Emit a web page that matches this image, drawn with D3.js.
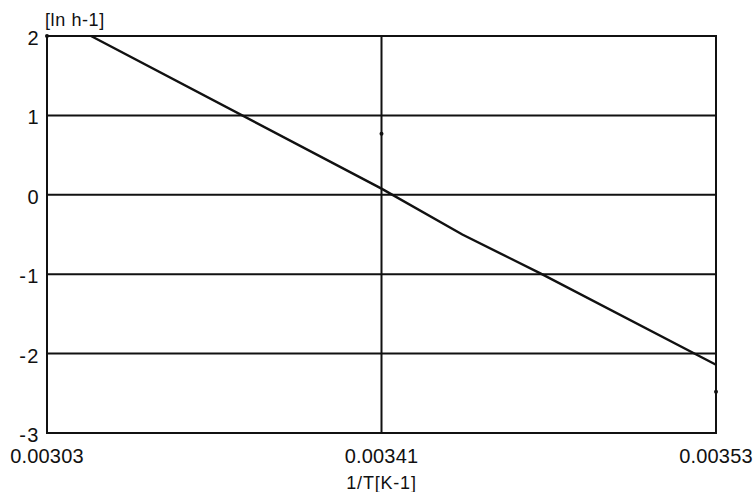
<!DOCTYPE html>
<html>
<head>
<meta charset="utf-8">
<script src="https://cdn.jsdelivr.net/npm/d3@7"></script>
<style>
  body { margin: 0; background: #fff; }
  .lbl { font-family: "Liberation Sans", Arial, sans-serif; fill: #111; }
</style>
</head>
<body>
<div class="js-chart" style="width: 756px; height: 492px;"></div>
<script>
// Values.
var xTicks = [0.00303, 0.00341, 0.00353];
var yTicks = [-3, -2, -1, 0, 1, 2];
var lineX = [0.00308, 0.00341, 0.003439, 0.003467, 0.00353];
var lineY = [2.0, 0.078, -0.50, -0.99, -2.14];
var dotX = [0.00303, 0.00341, 0.00353];
var dotY = [2.0, 0.77, -2.48];
var yLabel = '[ln h-1]';
var xLabel = '1/T[K-1]';

;(function() {
  'use strict';

  var totalW = 756,
      totalH = 492;
  var margin = {top: 36, right: 40, bottom: 59, left: 47};

  var svg = d3.select('.js-chart').append('svg')
              .attr('width', totalW)
              .attr('height', totalH);

  // The x axis in the original is not linear: the middle tick sits at
  // the centre, so map the three ticks piecewise.
  var xScale = d3.scaleLinear()
                 .domain(xTicks)
                 .range([margin.left, (margin.left + totalW - margin.right) / 2,
                         totalW - margin.right]);

  var yScale = d3.scaleLinear()
                 .domain([-3, 2])
                 .range([totalH - margin.bottom, margin.top]);

  var ink = '#111';

  // Horizontal grid lines.
  svg.append('g')
    .selectAll('line')
    .data(yTicks.filter(function(d) { return d > -3 && d < 2; }))
    .enter().append('line')
      .attr('x1', margin.left)
      .attr('x2', totalW - margin.right)
      .attr('y1', function(d) { return yScale(d); })
      .attr('y2', function(d) { return yScale(d); })
      .style('stroke', ink)
      .style('stroke-width', 2);

  // Vertical grid line at the middle tick.
  svg.append('line')
    .attr('x1', xScale(xTicks[1]))
    .attr('x2', xScale(xTicks[1]))
    .attr('y1', margin.top)
    .attr('y2', totalH - margin.bottom)
    .style('stroke', ink)
    .style('stroke-width', 2);

  // Frame.
  svg.append('rect')
    .attr('x', margin.left)
    .attr('y', margin.top)
    .attr('width', totalW - margin.left - margin.right)
    .attr('height', totalH - margin.top - margin.bottom)
    .style('fill', 'none')
    .style('stroke', ink)
    .style('stroke-width', 2);

  // Y tick labels.
  svg.append('g')
    .selectAll('text')
    .data(yTicks)
    .enter().append('text')
      .classed('lbl', true)
      .attr('x', margin.left - 7)
      .attr('y', function(d) { return yScale(d) + 9; })
      .attr('text-anchor', 'end')
      .style('font-size', '20px')
      .style('letter-spacing', '1.5px')
      .text(function(d) { return d < 0 ? '-' + Math.abs(d) : d; });

  // X tick labels.
  svg.append('g')
    .selectAll('text')
    .data(xTicks)
    .enter().append('text')
      .classed('lbl', true)
      .attr('x', function(d) { return xScale(d); })
      .attr('y', totalH - margin.bottom + 30)
      .attr('text-anchor', 'middle')
      .style('font-size', '20px')
      .style('letter-spacing', '0.2px')
      .text(function(d) { return d3.format('.5f')(d); });

  // Axis titles.
  svg.append('text')
    .classed('lbl', true)
    .attr('x', xScale(xTicks[1]))
    .attr('y', totalH - 3)
    .attr('text-anchor', 'middle')
    .style('font-size', '18px')
    .style('letter-spacing', '0.8px')
    .text(xLabel);

  svg.append('text')
    .classed('lbl', true)
    .attr('x', margin.left - 2)
    .attr('y', margin.top - 10)
    .style('font-size', '18px')
    .style('letter-spacing', '0.6px')
    .text(yLabel);

  // The data line.
  var points = lineX.map(function(x, i) { return [x, lineY[i]]; });
  svg.append('path')
    .datum(points)
    .attr('d', d3.line()
                 .x(function(d) { return xScale(d[0]); })
                 .y(function(d) { return yScale(d[1]); }))
    .style('fill', 'none')
    .style('stroke', ink)
    .style('stroke-width', 2.4);

  // Small measured dots.
  svg.append('g')
    .selectAll('circle')
    .data(dotX)
    .enter().append('circle')
      .attr('cx', function(d) { return xScale(d); })
      .attr('cy', function(d, i) { return yScale(dotY[i]); })
      .attr('r', 2)
      .style('fill', ink);
}());
</script>
</body>
</html>
